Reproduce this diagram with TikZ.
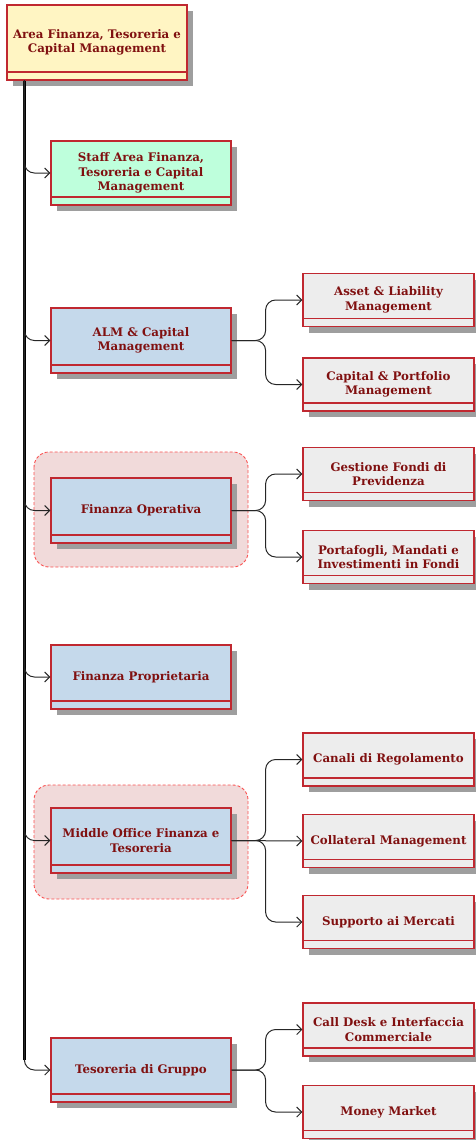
\documentclass[tikz,border=0pt]{standalone}
\usepackage{fontspec}
\setmainfont{DejaVu Serif}
\usepackage{xcolor}
\usepackage{tikz}
\usetikzlibrary{arrows.meta,shadows,positioning}
\definecolor{unitred}{RGB}{192,40,48}
\definecolor{labelred}{RGB}{128,16,16}
\definecolor{rootfill}{RGB}{255,245,195}
\definecolor{stafffill}{RGB}{190,255,220}
\definecolor{mainfill}{RGB}{197,217,235}
\definecolor{subfill}{RGB}{237,237,237}
\definecolor{groupfill}{RGB}{241,218,218}
\definecolor{groupline}{RGB}{250,80,80}
\tikzset{>={Straight Barb[length=5pt,width=10pt]}}

\begin{document}
\begin{tikzpicture}[x=1pt, y=-1pt,
                    unit/.style={draw=unitred, line width=1.2pt, fill=#1, text=labelred,
                                 font=\fontsize{11.8}{14.5}\selectfont\bfseries, align=center,
                                 inner sep=0pt, minimum width=180pt, minimum height=65pt,
                                 drop shadow={shadow xshift=6pt, shadow yshift=-6pt, fill=black!38, opacity=1},
                                 path picture={\draw[unitred, line width=1.2pt]
                                   ([yshift=8pt]path picture bounding box.south west) --
                                   ([yshift=8pt]path picture bounding box.south east);}},
                    sub/.style={unit=subfill, minimum width=171pt, minimum height=53pt},
                    group/.style={draw=groupline, densely dashed, fill=groupfill, rounded corners=15pt, line width=0.9pt},
                    trunkline/.style={line width=2.2pt, black},
                    branch/.style={->, line width=1pt, black!85, rounded corners=10pt},
                   ]

\useasboundingbox (0,0) rectangle (476,1140);

% groups behind the units
\draw[group] (34,452) rectangle (248,567);
\draw[group] (34,785) rectangle (248,899);

% units
\node[unit=rootfill, minimum height=75pt] (root) at (97,42.5) {Area Finanza, Tesoreria e\\Capital Management};
\node[unit=stafffill, minimum height=64pt] (staff) at (141,173) {Staff Area Finanza,\\Tesoreria e Capital\\Management};
\node[unit=mainfill] (alm) at (141,340.5) {ALM \& Capital\\Management};
\node[unit=mainfill] (finop) at (141,510.5) {Finanza Operativa};
\node[unit=mainfill, minimum height=64pt] (finprop) at (141,677) {Finanza Proprietaria};
\node[unit=mainfill] (midoff) at (141,840.5) {Middle Office Finanza e\\Tesoreria};
\node[unit=mainfill, minimum height=64pt] (tesgr) at (141,1070) {Tesoreria di Gruppo};

\node[sub] (alm1) at (388.5,300) {Asset \& Liability\\Management};
\node[sub] (alm2) at (388.5,384.5) {Capital \& Portfolio\\Management};
\node[sub] (fo1) at (388.5,474) {Gestione Fondi di\\Previdenza};
\node[sub] (fo2) at (388.5,557) {Portafogli, Mandati e\\Investimenti in Fondi};
\node[sub] (mo1) at (388.5,759.5) {Canali di Regolamento};
\node[sub] (mo2) at (388.5,841) {Collateral Management};
\node[sub] (mo3) at (388.5,922) {Supporto ai Mercati};
\node[sub] (tg1) at (388.5,1029.5) {Call Desk e Interfaccia\\Commerciale};
\node[sub] (tg2) at (388.5,1112) {Money Market};

% trunk from the root down
\coordinate (trunk) at ([xshift=18pt]root.south west);
\draw[trunkline] (trunk) -- ([yshift=10pt]trunk |- tesgr.west);
\foreach \n in {staff,alm,finop,finprop,midoff,tesgr}
  \draw[branch] (trunk) |- (\n.west);

% forks to the sub units
\foreach \a/\b in {alm/alm1,alm/alm2,finop/fo1,finop/fo2,midoff/mo1,midoff/mo3,tesgr/tg1,tesgr/tg2}
  \draw[branch] (\a.east) -- ([xshift=34pt]\a.east) |- (\b.west);
\draw[branch] (midoff.east) -- (mo2.west);

\end{tikzpicture}
\end{document}
